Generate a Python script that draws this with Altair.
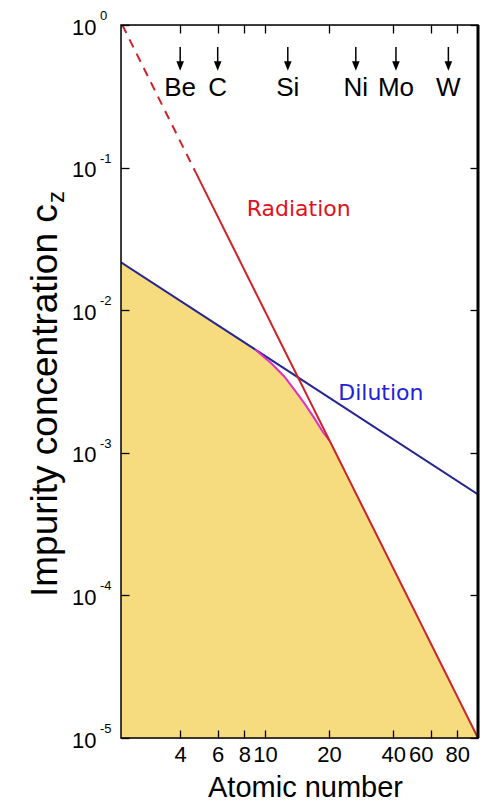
import altair as alt
import pandas as pd

# ---- data --------------------------------------------------------------
# radiation limit: extrapolated (dashed) part and solid part
rad_dash_z = [2.14, 4.75]
rad_dash_c = [1.0, 0.0914]
rad_z = [4.75, 100.0]
rad_c = [0.0914, 1.0e-5]

# dilution limit
dil_z = [2.11, 100.0]
dil_c = [0.0217, 5.1e-4]

# combined limit through the transition region
comb_z = [9.0, 10.67, 12.32, 13.73, 15.29, 17.04, 18.64, 20.04]
comb_c = [5.3e-3, 4.26e-3, 3.43e-3, 2.77e-3, 2.23e-3, 1.75e-3, 1.41e-3, 1.22e-3]

# elements marked along the top edge
elem_names = ["Be", "C", "Si", "Ni", "Mo", "W"]
elem_z = [4.0, 6.0, 12.8, 26.7, 41.2, 72.6]

# curve labels
lim_names = ["Radiation", "Dilution"]
lim_z = [14.4, 35.0]
lim_c = [0.046, 2.36e-3]

# axis ticks
x_ticks = [4, 6, 8, 10, 20, 40, 60, 80]
y_ticks = [1.0, 1e-1, 1e-2, 1e-3, 1e-4, 1e-5]
y_exps = ["0", "-1", "-2", "-3", "-4", "-5"]

# ---- styling -----------------------------------------------------------
W, H = 357, 713
FONT = "Liberation Sans"
FILL = "#f6dc7e"
RED = "#cc2229"
RED_TXT = "#e0121c"
BLUE = "#262693"
BLUE_TXT = "#1e22d8"
MAGENTA = "#e02fc8"

xs = alt.Scale(type="log", domain=[2.11, 100], nice=False)
ys = alt.Scale(type="log", domain=[1e-5, 1], nice=False)

tick_style = dict(domain=False, grid=False, ticks=True, tickSize=8, tickWidth=1.3,
                  tickColor="black", offset=-8, zindex=1)

x_bottom = alt.Axis(orient="bottom", values=x_ticks, format="d", labelFont=FONT,
                    labelFontSize=22, labelColor="black", labelPadding=6,
                    labelOverlap=False, labelFlush=False, labelBound=False,
                    labelOffset={"condition": {"test": "datum.value === 60", "value": -10}, "value": 0},
                    title="Atomic number", titleFont=FONT, titleFontSize=29,
                    titleFontWeight="normal", titleColor="black",
                    titleBaseline="alphabetic", titleAlign="center", titleX=184, titleY=66,
                    **tick_style)
y_left = alt.Axis(orient="left", values=y_ticks, labelExpr="'10'", labelFont=FONT,
                  labelFontSize=22, labelColor="black", labelPadding=25,
                  labelOverlap=False, labelFlush=False, labelBound=False, labelOffset=2,
                  title=None, **tick_style)
x_top = alt.Axis(orient="top", values=x_ticks, labels=False, title=None, **tick_style)
y_right = alt.Axis(orient="right", values=y_ticks, labels=False, title=None, **tick_style)


def xy(df_chart, xaxis=None, yaxis=None):
    return df_chart.encode(
        x=alt.X("z:Q", scale=xs, axis=xaxis),
        y=alt.Y("c:Q", scale=ys, axis=yaxis),
    )


fill_df = pd.DataFrame({"z": [dil_z[0]] + comb_z + [rad_z[-1]],
                        "c": [dil_c[0]] + comb_c + [rad_c[-1]]})

# allowed region below both limits
area = alt.Chart(fill_df).mark_area(color=FILL, opacity=1).encode(
    x=alt.X("z:Q", scale=xs, axis=x_bottom),
    y=alt.Y("c:Q", scale=ys, axis=y_left),
    y2=alt.datum(1e-5),
)

# invisible layer carrying the mirrored top/right ticks
mirror = xy(alt.Chart(fill_df).mark_line(opacity=0), x_top, y_right)

dilution = xy(alt.Chart(pd.DataFrame({"z": dil_z, "c": dil_c}))
              .mark_line(color=BLUE, strokeWidth=2, clip=True))
combined = xy(alt.Chart(pd.DataFrame({"z": comb_z, "c": comb_c}))
              .mark_line(color=MAGENTA, strokeWidth=2, clip=True))
radiation = xy(alt.Chart(pd.DataFrame({"z": rad_z, "c": rad_c}))
               .mark_line(color=RED, strokeWidth=2, clip=True))
radiation_ext = xy(alt.Chart(pd.DataFrame({"z": rad_dash_z, "c": rad_dash_c}))
                   .mark_line(color=RED, strokeWidth=2, strokeDash=[9, 7], clip=True))

# frame, with a heavier right edge
frame = alt.Chart(pd.DataFrame({"k": [0]})).mark_rect(
    fill=None, stroke="black", strokeWidth=1.5).encode(
    x=alt.value(0), x2=alt.value(W), y=alt.value(0), y2=alt.value(H))
right_edge = alt.Chart(pd.DataFrame({"k": [0]})).mark_rule(
    color="black", strokeWidth=3).encode(
    x=alt.value(W), y=alt.value(0), y2=alt.value(H))

# element markers
elem_df = pd.DataFrame({"z": elem_z, "name": elem_names})
shafts = alt.Chart(elem_df).mark_rule(color="black", strokeWidth=1.5).encode(
    x=alt.X("z:Q", scale=xs, axis=None), y=alt.value(22), y2=alt.value(40))
heads = alt.Chart(elem_df).mark_point(
    shape="M-0.8,-1L0.8,-1L0,1Z", filled=True, color="black", opacity=1, size=90,
    strokeWidth=0).encode(x=alt.X("z:Q", scale=xs, axis=None), y=alt.value(41))
elem_text = alt.Chart(elem_df).mark_text(
    font=FONT, fontSize=26, baseline="alphabetic", align="center", color="black").encode(
    x=alt.X("z:Q", scale=xs, axis=None), y=alt.value(70.5), text="name:N")

# curve labels
lim_df = pd.DataFrame({"z": lim_z, "c": lim_c, "name": lim_names})
lim_text = alt.Chart(lim_df).mark_text(
    font="DejaVu Sans", fontSize=22, baseline="alphabetic", align="center").encode(
    x=alt.X("z:Q", scale=xs, axis=None),
    y=alt.Y("c:Q", scale=ys, axis=None),
    text="name:N",
    color=alt.Color("name:N", scale=alt.Scale(domain=lim_names, range=[RED_TXT, BLUE_TXT]),
                    legend=None),
)

# exponents of the decade labels
exp_df = pd.DataFrame({"c": y_ticks, "e": y_exps})
exps = alt.Chart(exp_df).mark_text(
    font=FONT, fontSize=13, align="left", baseline="alphabetic", dy=-5, color="black").encode(
    x=alt.value(-21), y=alt.Y("c:Q", scale=ys, axis=None), text="e:N")

# y-axis title with subscript
one = pd.DataFrame({"k": [0]})
ytitle = alt.Chart(one).mark_text(
    font=FONT, fontSize=37, angle=270, align="left", baseline="alphabetic",
    color="black", text="Impurity concentration c").encode(
    x=alt.value(-64), y=alt.value(572))
ysub = alt.Chart(one).mark_text(
    font=FONT, fontSize=24, angle=270, align="left", baseline="alphabetic",
    color="black", text="z").encode(
    x=alt.value(-57), y=alt.value(178))

chart = alt.layer(
    area, mirror, dilution, combined, radiation, radiation_ext, frame, right_edge,
    shafts, heads, elem_text, lim_text, exps, ytitle, ysub,
).resolve_axis(x="independent", y="independent").properties(
    width=W, height=H,
    padding={"left": 121, "top": 25, "right": 11, "bottom": 64},
    autosize="none",
).configure_view(stroke=None).configure(background="white")

chart.save("out.html", embed_options={"renderer": "svg", "actions": False})
